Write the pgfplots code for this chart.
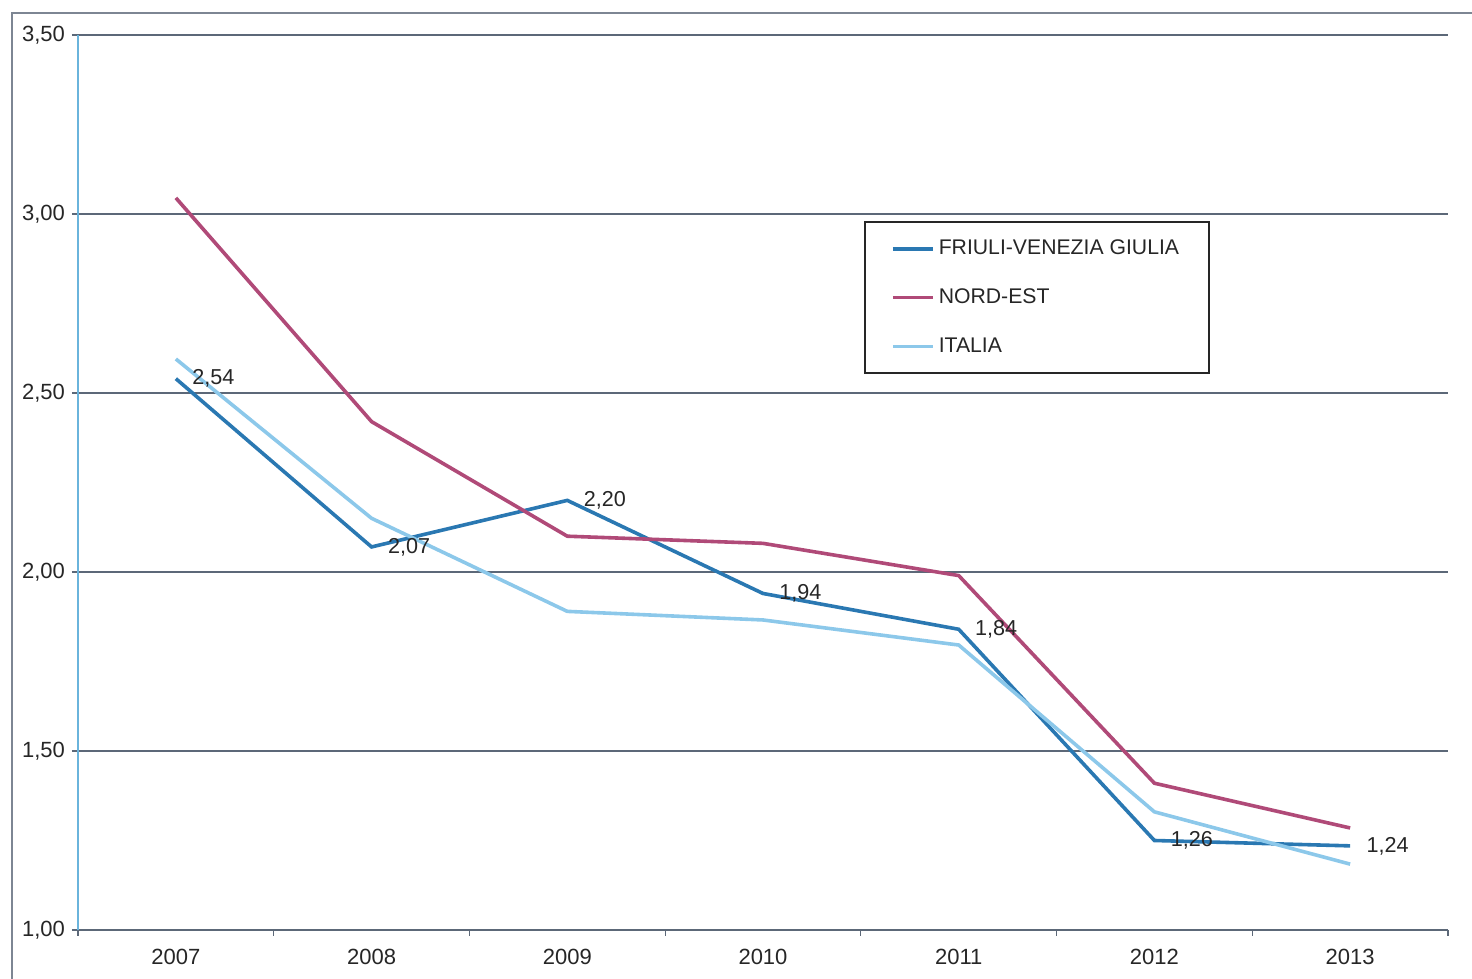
\documentclass[border=0pt]{standalone}
\usepackage{fontspec}
\setmainfont{Liberation Sans}
\usepackage{pgfplots}
\pgfplotsset{compat=1.18}
\definecolor{fvg}{HTML}{2A78B2}
\definecolor{nordest}{HTML}{B04A78}
\definecolor{italia}{HTML}{8CC8EA}
\definecolor{gridc}{HTML}{5C6878}
\definecolor{yaxc}{HTML}{6AB4DC}
\begin{document}
\begin{tikzpicture}
\useasboundingbox (-39pt,-24.5pt) rectangle (697pt,465pt);
\draw[gridc!80, line width=0.8pt] (-33pt,-24.5pt) -- (-33pt,458.5pt) -- (697pt,458.5pt);
\begin{axis}[
  at={(0,0)}, anchor=south west,
  scale only axis, width=685pt, height=447.5pt,
  xmin=-0.5, xmax=6.5, ymin=1, ymax=3.5,
  xtick={0,...,6}, xticklabels={2007,2008,2009,2010,2011,2012,2013},
  major x tick style={draw=none},
  minor xtick={-0.5,0.5,...,6.5},
  minor x tick style={gridc, line width=0.6pt},
  minor tick length=3pt,
  ytick={1,1.5,...,3.5},
  major tick length=3pt,
  tick align=outside,
  axis x line*=bottom, axis y line*=left,
  x axis line style={-, gridc, line width=0.8pt},
  y axis line style={-, yaxc, line width=0.8pt},
  y tick style={gridc, line width=0.6pt},
  ymajorgrids, grid style={gridc, line width=0.6pt},
  /pgf/number format/assume math mode=true,
  yticklabel style={/pgf/number format/.cd, fixed, fixed zerofill, precision=2, use comma},
  ticklabel style={font=\fontsize{11}{13}\selectfont, text=black!85},
  xticklabel style={yshift=-3pt},
  every axis plot/.append style={line width=1.8pt},
  legend image code/.code={\draw[#1] (0pt,0pt) -- (20pt,0pt);},
  legend cell align=left,
  legend style={at={(0.574,0.792)}, anchor=north west, draw=black!85, line width=0.8pt,
    font=\fontsize{10.6}{12.5}\selectfont, inner xsep=13pt, inner ysep=7pt,
    row sep=11.5pt, text=black!85},
]
\addplot[fvg, nodes near coords, point meta=explicit symbolic,
  every node near coord/.style={anchor=west, xshift=4pt, font=\fontsize{10.8}{13}\selectfont, text=black!85}]
  coordinates {(0,2.54)[2,54] (1,2.07)[2,07] (2,2.20)[2,20] (3,1.94)[1,94] (4,1.84)[1,84] (5,1.25)[1,26] (6,1.235)[1,24]};
\addlegendentry{FRIULI-VENEZIA GIULIA}
\addplot[nordest] coordinates {(0,3.045) (1,2.42) (2,2.10) (3,2.08) (4,1.99) (5,1.41) (6,1.285)};
\addlegendentry{NORD-EST}
\addplot[italia] coordinates {(0,2.595) (1,2.15) (2,1.89) (3,1.866) (4,1.796) (5,1.33) (6,1.184)};
\addlegendentry{ITALIA}
\end{axis}
\end{tikzpicture}
\end{document}
